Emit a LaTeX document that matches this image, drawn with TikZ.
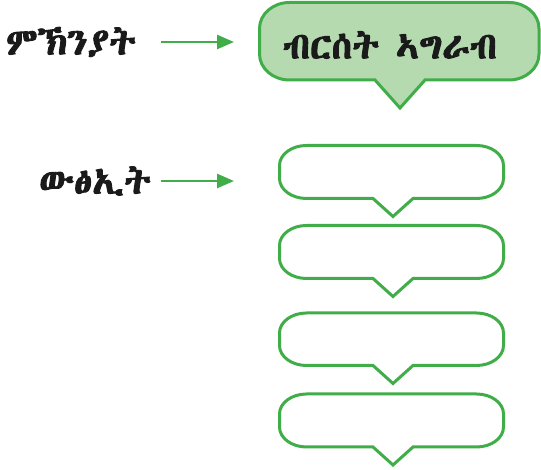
\documentclass[tikz,border=0pt]{standalone}
\usepackage{fontspec}
\IfFontExistsTF{Abyssinica SIL}{\newfontfamily\ethfont{Abyssinica SIL}[FakeBold=2.5]}{%
 \IfFontExistsTF{FreeSerif}{\newfontfamily\ethfont{FreeSerif}[FakeBold=2.5]}{%
  \IfFontExistsTF{FreeSans}{\newfontfamily\ethfont{FreeSans}[FakeBold=2.5]}{%
   \newfontfamily\ethfont{DejaVu Sans}}}}
\usetikzlibrary{arrows.meta}
\definecolor{gline}{HTML}{41AD49}
\definecolor{gfill}{HTML}{B6DAAF}
\definecolor{ink}{HTML}{1A1A1A}
\tikzset{
  callbox/.style={draw=gline, line width=3pt, line join=miter},
  lbl/.style={font=\ethfont\fontsize{37}{40}\selectfont, text=ink, inner sep=0pt},
  garrow/.style={draw=gline, line width=2.6pt, -{Triangle[length=17pt,width=14pt]}}
}
% #1 left, #2 right, #3 bottom, #4 top, #5 tip x, #6 half base, #7 depth, #8 rx, #9 ry
\newcommand\mycallout[9]{%
  (#5,#3-#7) -- (#5-#6,#3) -- (#1+#8,#3)
  arc[start angle=270,end angle=180,x radius=#8,y radius=#9]
  -- (#1,#4-#9) arc[start angle=180,end angle=90,x radius=#8,y radius=#9]
  -- (#2-#8,#4) arc[start angle=90,end angle=0,x radius=#8,y radius=#9]
  -- (#2,#3+#9) arc[start angle=0,end angle=-90,x radius=#8,y radius=#9]
  -- (#5+#6,#3) -- cycle}
\begin{document}
\begin{tikzpicture}[x=1pt,y=1pt]
\useasboundingbox (0,0) rectangle (541,470);
% top callout
\fill[gfill] \mycallout{259.5}{539}{390}{467.5}{400}{25}{28}{30}{26};
\draw[callbox] \mycallout{259.5}{539}{390}{467.5}{400}{25}{28}{30}{26};
\node[lbl] (title) at (390,425) {ብርሰት ኣግራብ};
% empty callouts
\draw[callbox] \mycallout{279.5}{503.5}{271.5}{324.5}{393}{20}{18}{27}{20};
\draw[callbox] \mycallout{279.5}{503.5}{191.5}{244.5}{393}{20}{18}{27}{20};
\draw[callbox] \mycallout{279.5}{503.5}{104.5}{157}{393}{20}{18}{27}{20};
\draw[callbox] \mycallout{279.5}{503.5}{23}{76}{393}{20}{18}{27}{20};
% labels
\node[lbl] (cause) at (71,428) {ምኽንያት};
\node[lbl] (effect) at (95,289) {ውፅኢት};
\coordinate (c1) at (234,428);
\coordinate (c2) at (234,289);
\coordinate (s1) at (161,428);
\coordinate (s2) at (161,289);
\draw[garrow] (s1) -- (c1);
\draw[garrow] (s2) -- (c2);
\end{tikzpicture}
\end{document}
